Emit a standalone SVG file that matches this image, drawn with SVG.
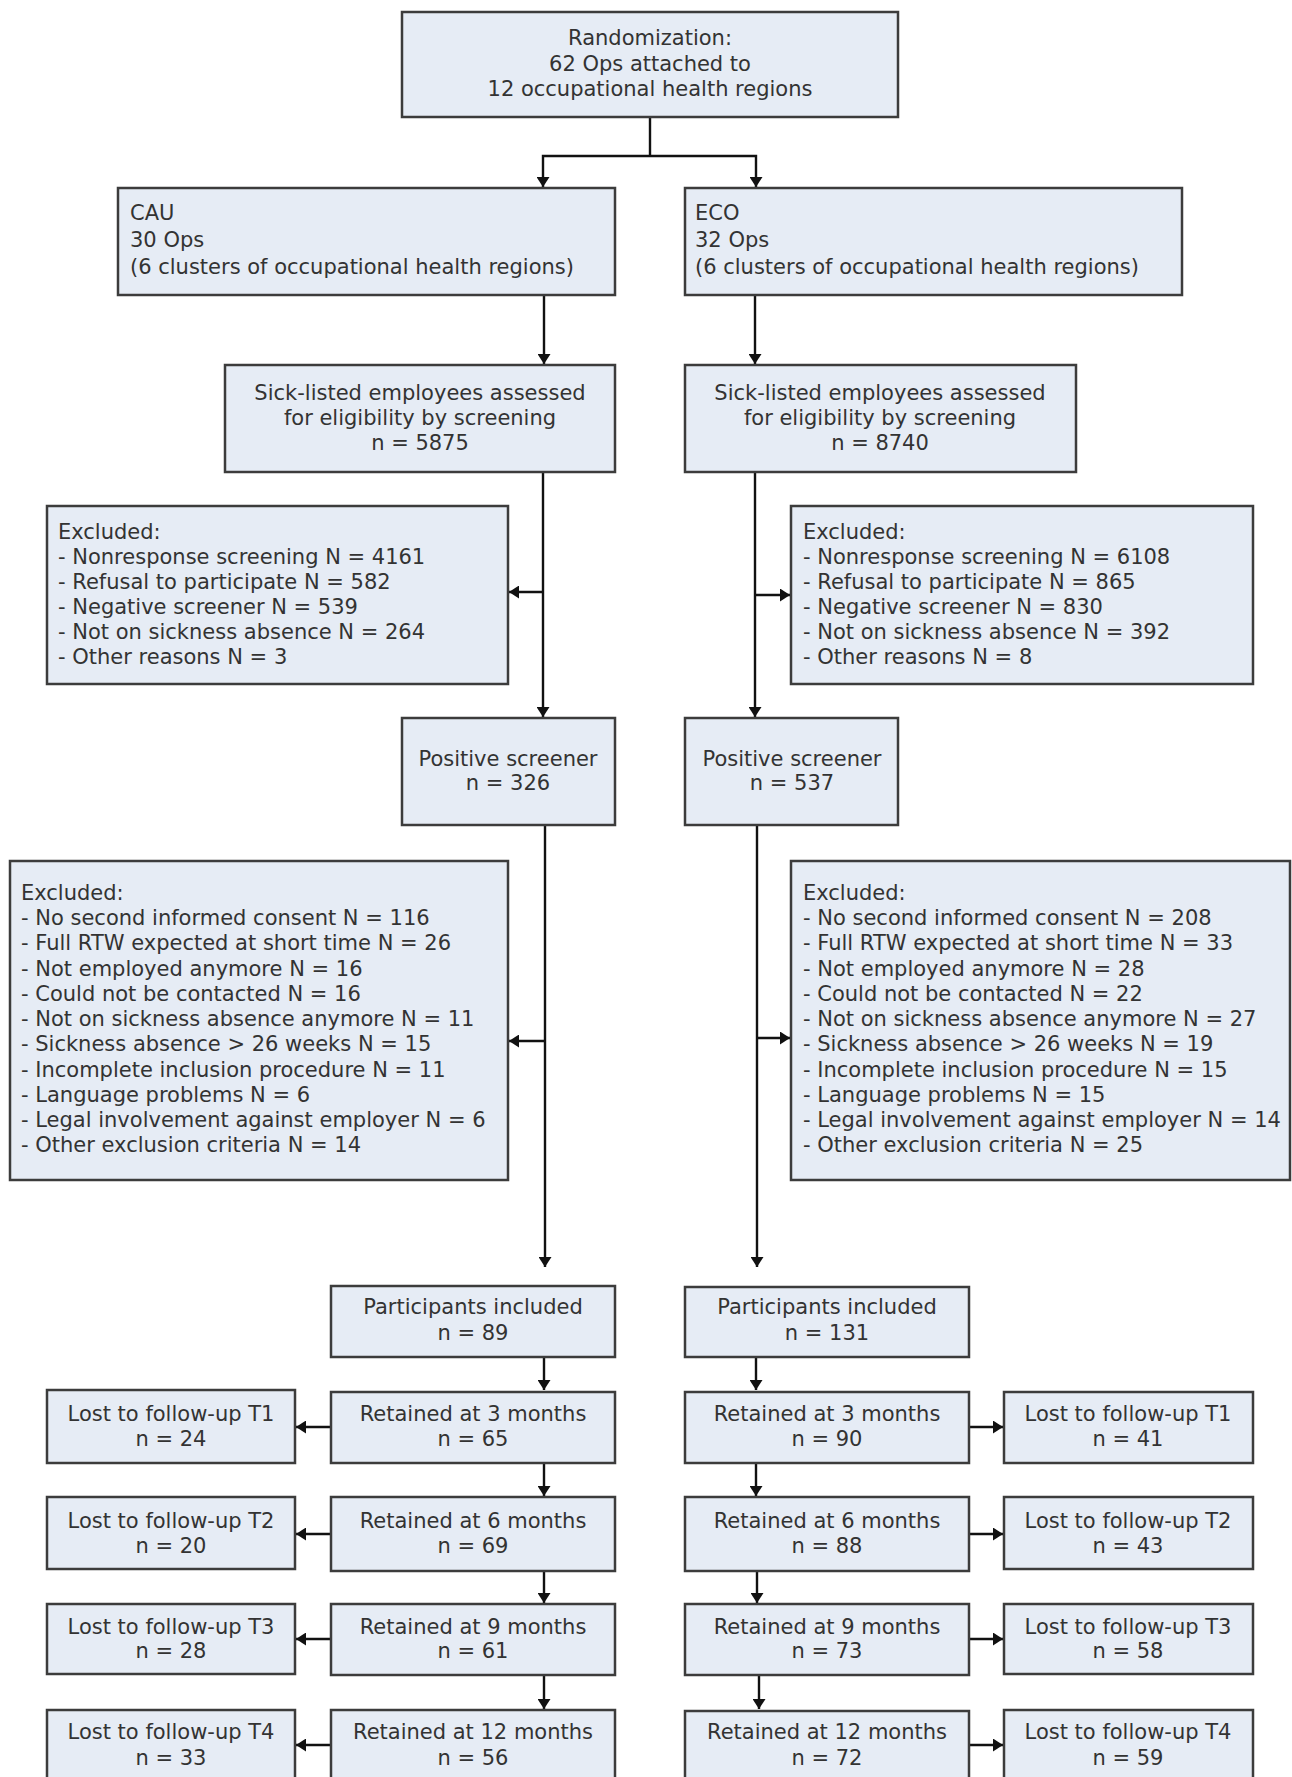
<svg xmlns="http://www.w3.org/2000/svg" width="1292" height="1777" viewBox="0 0 1292 1777">
<defs>
<style>
.box{fill:#e6ecf5;stroke:#3c3c3c;stroke-width:2.5}
.t{font-family:"DejaVu Sans",Verdana,sans-serif;font-size:21px;fill:#333333}
.c{text-anchor:middle}
.ln{fill:none;stroke:#111;stroke-width:2.4}
</style>
<marker id="ah" viewBox="0 0 10 13" refX="10" refY="6.5" markerWidth="10" markerHeight="13" orient="auto" markerUnits="userSpaceOnUse">
<path d="M0,0 L10,6.5 L0,13 z" fill="#111"/>
</marker>
</defs>
<rect width="1292" height="1777" fill="#ffffff"/>

<g id="connectors">
<path class="ln" d="M650 117 V156"/>
<path class="ln" d="M650 156 H543 V187" marker-end="url(#ah)"/>
<path class="ln" d="M650 156 H756 V187" marker-end="url(#ah)"/>
<path class="ln" d="M544 295 V364" marker-end="url(#ah)"/>
<path class="ln" d="M755 295 V364" marker-end="url(#ah)"/>
<path class="ln" d="M543 472 V717" marker-end="url(#ah)"/>
<path class="ln" d="M543 592 H509" marker-end="url(#ah)"/>
<path class="ln" d="M755 472 V717" marker-end="url(#ah)"/>
<path class="ln" d="M755 595 H790" marker-end="url(#ah)"/>
<path class="ln" d="M545 825 V1267" marker-end="url(#ah)"/>
<path class="ln" d="M545 1041 H509" marker-end="url(#ah)"/>
<path class="ln" d="M757 825 V1267" marker-end="url(#ah)"/>
<path class="ln" d="M757 1038 H790" marker-end="url(#ah)"/>
<path class="ln" d="M544 1357 V1390" marker-end="url(#ah)"/>
<path class="ln" d="M544 1463 V1496" marker-end="url(#ah)"/>
<path class="ln" d="M544 1571 V1603" marker-end="url(#ah)"/>
<path class="ln" d="M544 1675 V1709" marker-end="url(#ah)"/>
<path class="ln" d="M331 1427 H296" marker-end="url(#ah)"/>
<path class="ln" d="M331 1534 H296" marker-end="url(#ah)"/>
<path class="ln" d="M331 1639 H296" marker-end="url(#ah)"/>
<path class="ln" d="M331 1745 H296" marker-end="url(#ah)"/>
<path class="ln" d="M756 1357 V1390" marker-end="url(#ah)"/>
<path class="ln" d="M756 1463 V1496" marker-end="url(#ah)"/>
<path class="ln" d="M757 1571 V1603" marker-end="url(#ah)"/>
<path class="ln" d="M759 1675 V1709" marker-end="url(#ah)"/>
<path class="ln" d="M969 1427 H1003" marker-end="url(#ah)"/>
<path class="ln" d="M969 1534 H1003" marker-end="url(#ah)"/>
<path class="ln" d="M969 1639 H1003" marker-end="url(#ah)"/>
<path class="ln" d="M969 1745 H1003" marker-end="url(#ah)"/>
</g>

<g id="randomization">
<rect class="box" x="402" y="12" width="496" height="105"/>
<text class="t c" x="650" y="45">Randomization:</text>
<text class="t c" x="650" y="71">62 Ops attached to</text>
<text class="t c" x="650" y="96">12 occupational health regions</text>
</g>

<g id="cau">
<rect class="box" x="118" y="188" width="497" height="107"/>
<text class="t" x="130" y="220">CAU</text>
<text class="t" x="130" y="247">30 Ops</text>
<text class="t" x="130" y="274">(6 clusters of occupational health regions)</text>
</g>

<g id="eco">
<rect class="box" x="685" y="188" width="497" height="107"/>
<text class="t" x="695" y="220">ECO</text>
<text class="t" x="695" y="247">32 Ops</text>
<text class="t" x="695" y="274">(6 clusters of occupational health regions)</text>
</g>

<g id="sick-cau">
<rect class="box" x="225" y="365" width="390" height="107"/>
<text class="t c" x="420" y="400">Sick-listed employees assessed</text>
<text class="t c" x="420" y="425">for eligibility by screening</text>
<text class="t c" x="420" y="450">n = 5875</text>
</g>

<g id="sick-eco">
<rect class="box" x="685" y="365" width="391" height="107"/>
<text class="t c" x="880" y="400">Sick-listed employees assessed</text>
<text class="t c" x="880" y="425">for eligibility by screening</text>
<text class="t c" x="880" y="450">n = 8740</text>
</g>

<g id="excl1-cau">
<rect class="box" x="47" y="506" width="461" height="178"/>
<text class="t" x="58" y="539">Excluded:</text>
<text class="t" x="58" y="564">- Nonresponse screening N = 4161</text>
<text class="t" x="58" y="589">- Refusal to participate N = 582</text>
<text class="t" x="58" y="614">- Negative screener N = 539</text>
<text class="t" x="58" y="639">- Not on sickness absence N = 264</text>
<text class="t" x="58" y="664">- Other reasons N = 3</text>
</g>

<g id="excl1-eco">
<rect class="box" x="791" y="506" width="462" height="178"/>
<text class="t" x="803" y="539">Excluded:</text>
<text class="t" x="803" y="564">- Nonresponse screening N = 6108</text>
<text class="t" x="803" y="589">- Refusal to participate N = 865</text>
<text class="t" x="803" y="614">- Negative screener N = 830</text>
<text class="t" x="803" y="639">- Not on sickness absence N = 392</text>
<text class="t" x="803" y="664">- Other reasons N = 8</text>
</g>

<g id="pos-cau">
<rect class="box" x="402" y="718" width="213" height="107"/>
<text class="t c" x="508" y="766">Positive screener</text>
<text class="t c" x="508" y="790">n = 326</text>
</g>

<g id="pos-eco">
<rect class="box" x="685" y="718" width="213" height="107"/>
<text class="t c" x="792" y="766">Positive screener</text>
<text class="t c" x="792" y="790">n = 537</text>
</g>

<g id="excl2-cau">
<rect class="box" x="10" y="861" width="498" height="319"/>
<text class="t" x="21" y="900">Excluded:</text>
<text class="t" x="21" y="925">- No second informed consent N = 116</text>
<text class="t" x="21" y="950">- Full RTW expected at short time N = 26</text>
<text class="t" x="21" y="976">- Not employed anymore N = 16</text>
<text class="t" x="21" y="1001">- Could not be contacted N = 16</text>
<text class="t" x="21" y="1026">- Not on sickness absence anymore N = 11</text>
<text class="t" x="21" y="1051">- Sickness absence &gt; 26 weeks N = 15</text>
<text class="t" x="21" y="1077">- Incomplete inclusion procedure N = 11</text>
<text class="t" x="21" y="1102">- Language problems N = 6</text>
<text class="t" x="21" y="1127">- Legal involvement against employer N = 6</text>
<text class="t" x="21" y="1152">- Other exclusion criteria N = 14</text>
</g>

<g id="excl2-eco">
<rect class="box" x="791" y="861" width="499" height="319"/>
<text class="t" x="803" y="900">Excluded:</text>
<text class="t" x="803" y="925">- No second informed consent N = 208</text>
<text class="t" x="803" y="950">- Full RTW expected at short time N = 33</text>
<text class="t" x="803" y="976">- Not employed anymore N = 28</text>
<text class="t" x="803" y="1001">- Could not be contacted N = 22</text>
<text class="t" x="803" y="1026">- Not on sickness absence anymore N = 27</text>
<text class="t" x="803" y="1051">- Sickness absence &gt; 26 weeks N = 19</text>
<text class="t" x="803" y="1077">- Incomplete inclusion procedure N = 15</text>
<text class="t" x="803" y="1102">- Language problems N = 15</text>
<text class="t" x="803" y="1127">- Legal involvement against employer N = 14</text>
<text class="t" x="803" y="1152">- Other exclusion criteria N = 25</text>
</g>

<g id="incl-cau">
<rect class="box" x="331" y="1286" width="284" height="71"/>
<text class="t c" x="473" y="1314">Participants included</text>
<text class="t c" x="473" y="1340">n = 89</text>
</g>

<g id="incl-eco">
<rect class="box" x="685" y="1287" width="284" height="70"/>
<text class="t c" x="827" y="1314">Participants included</text>
<text class="t c" x="827" y="1340">n = 131</text>
</g>

<g id="ret3-cau">
<rect class="box" x="331" y="1392" width="284" height="71"/>
<text class="t c" x="473" y="1421">Retained at 3 months</text>
<text class="t c" x="473" y="1446">n = 65</text>
</g>
<g id="lost1-cau">
<rect class="box" x="47" y="1390" width="248" height="73"/>
<text class="t c" x="171" y="1421">Lost to follow-up T1</text>
<text class="t c" x="171" y="1446">n = 24</text>
</g>
<g id="ret6-cau">
<rect class="box" x="331" y="1497" width="284" height="74"/>
<text class="t c" x="473" y="1528">Retained at 6 months</text>
<text class="t c" x="473" y="1553">n = 69</text>
</g>
<g id="lost2-cau">
<rect class="box" x="47" y="1497" width="248" height="72"/>
<text class="t c" x="171" y="1528">Lost to follow-up T2</text>
<text class="t c" x="171" y="1553">n = 20</text>
</g>
<g id="ret9-cau">
<rect class="box" x="331" y="1604" width="284" height="71"/>
<text class="t c" x="473" y="1634">Retained at 9 months</text>
<text class="t c" x="473" y="1658">n = 61</text>
</g>
<g id="lost3-cau">
<rect class="box" x="47" y="1604" width="248" height="70"/>
<text class="t c" x="171" y="1634">Lost to follow-up T3</text>
<text class="t c" x="171" y="1658">n = 28</text>
</g>
<g id="ret12-cau">
<rect class="box" x="331" y="1710" width="284" height="72"/>
<text class="t c" x="473" y="1739">Retained at 12 months</text>
<text class="t c" x="473" y="1765">n = 56</text>
</g>
<g id="lost4-cau">
<rect class="box" x="47" y="1710" width="248" height="72"/>
<text class="t c" x="171" y="1739">Lost to follow-up T4</text>
<text class="t c" x="171" y="1765">n = 33</text>
</g>

<g id="ret3-eco">
<rect class="box" x="685" y="1392" width="284" height="71"/>
<text class="t c" x="827" y="1421">Retained at 3 months</text>
<text class="t c" x="827" y="1446">n = 90</text>
</g>
<g id="lost1-eco">
<rect class="box" x="1004" y="1392" width="249" height="71"/>
<text class="t c" x="1128" y="1421">Lost to follow-up T1</text>
<text class="t c" x="1128" y="1446">n = 41</text>
</g>
<g id="ret6-eco">
<rect class="box" x="685" y="1497" width="284" height="74"/>
<text class="t c" x="827" y="1528">Retained at 6 months</text>
<text class="t c" x="827" y="1553">n = 88</text>
</g>
<g id="lost2-eco">
<rect class="box" x="1004" y="1497" width="249" height="72"/>
<text class="t c" x="1128" y="1528">Lost to follow-up T2</text>
<text class="t c" x="1128" y="1553">n = 43</text>
</g>
<g id="ret9-eco">
<rect class="box" x="685" y="1604" width="284" height="71"/>
<text class="t c" x="827" y="1634">Retained at 9 months</text>
<text class="t c" x="827" y="1658">n = 73</text>
</g>
<g id="lost3-eco">
<rect class="box" x="1004" y="1604" width="249" height="70"/>
<text class="t c" x="1128" y="1634">Lost to follow-up T3</text>
<text class="t c" x="1128" y="1658">n = 58</text>
</g>
<g id="ret12-eco">
<rect class="box" x="685" y="1711" width="284" height="72"/>
<text class="t c" x="827" y="1739">Retained at 12 months</text>
<text class="t c" x="827" y="1765">n = 72</text>
</g>
<g id="lost4-eco">
<rect class="box" x="1004" y="1710" width="249" height="72"/>
<text class="t c" x="1128" y="1739">Lost to follow-up T4</text>
<text class="t c" x="1128" y="1765">n = 59</text>
</g>
</svg>
